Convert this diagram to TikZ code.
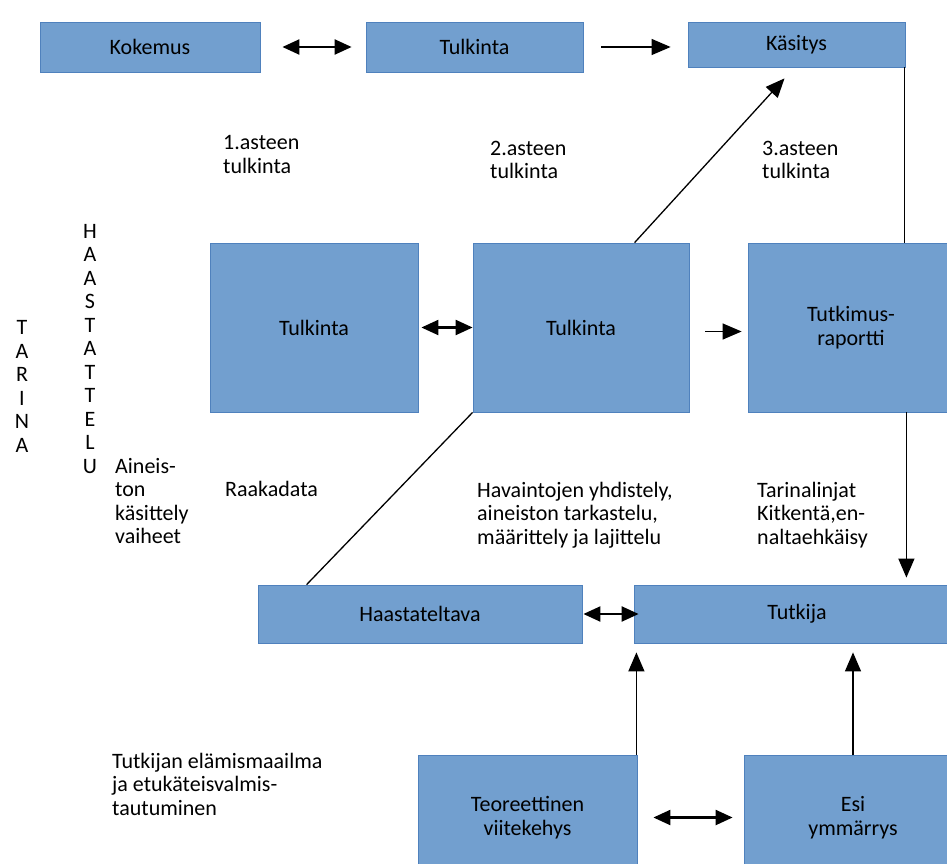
\documentclass[tikz,border=0pt]{standalone}
\usepackage{fontspec}
\setmainfont{Carlito}
\usetikzlibrary{arrows.meta,calc}

\definecolor{boxfill}{RGB}{114,159,207}
\definecolor{boxline}{RGB}{79,129,189}

\tikzset{
  box/.style={draw=boxline, fill=boxfill, line width=0.8pt, inner sep=0pt, align=center},
  txt/.style={anchor=base west, align=left, inner sep=0pt},
  letters/.style={anchor=base, align=center, inner sep=0pt},
  arr/.style={-{Triangle[length=19pt,width=16pt]}, line width=1.3pt},
  darr/.style={{Triangle[length=17pt,width=15pt]}-{Triangle[length=17pt,width=15pt]}, line width=2.2pt},
}

\begin{document}
\begin{tikzpicture}[x=1pt,y=-1pt,font=\fontsize{22}{23.5}\selectfont]
  \useasboundingbox (0,0) rectangle (947,864);

  \node[box, minimum width=220pt, minimum height=50pt] (kok) at (150,47) {Kokemus};
  \node[box, minimum width=217pt, minimum height=50pt] (tulk1) at (474.5,47) {Tulkinta};
  \node[box, minimum width=217pt, minimum height=45pt] (kas) at (796.5,44.5) {Käsitys};

  \node[box, minimum width=208pt, minimum height=169pt] (tulk2) at (314,327.5) {Tulkinta};
  \node[box, minimum width=216pt, minimum height=169pt] (tulk3) at (581,327.5) {Tulkinta};
  \node[box, minimum width=206pt, minimum height=169pt] (rap) at (851,327.5) {Tutkimus-\\raportti};

  \node[box, minimum width=324pt, minimum height=58pt] (haas) at (420,614) {Haastateltava};
  \node[box, minimum width=326pt, minimum height=58pt] (tutk) at (797,614) {Tutkija};

  \node[box, minimum width=219pt, minimum height=125pt] (teor) at (527.5,817.5) {Teoreettinen\\viitekehys};
  \node[box, minimum width=218pt, minimum height=125pt] (esi) at (853,817.5) {Esi\\ymmärrys};

  % base = baseline of the last line
  \node[txt] (aste1) at (223,173) {1.asteen\\tulkinta};
  \node[txt] (aste2) at (490,178.5) {2.asteen\\tulkinta};
  \node[txt] (aste3) at (762,178.5) {3.asteen\\tulkinta};

  \node[letters] (tarina) at (22,452) {T\\A\\R\\I\\N\\A};
  \node[letters] (haastattelu) at (90,473) {H\\A\\A\\S\\T\\A\\T\\T\\E\\L\\U};

  \node[txt] (vaiheet) at (115,543.5) {Aineis-\\ton\\käsittely\\vaiheet};
  \node[txt] (raaka) at (225,496) {Raakadata};
  \node[txt] (havainnot) at (477,544) {Havaintojen yhdistely,\\aineiston tarkastelu,\\määrittely ja lajittelu};
  \node[txt] (linjat) at (757,544) {Tarinalinjat\\Kitkentä,en-\\naltaehkäisy};
  \node[txt] (maailma) at (112,815) {Tutkijan elämismaailma\\ja etukäteisvalmis-\\tautuminen};

  \coordinate (kasTip) at ($(kas.south)+(-12,11)$);

  \draw[darr, shorten <=22pt, shorten >=14pt] (kok) -- (tulk1);
  \draw[arr, shorten <=18pt, shorten >=17pt] (tulk1.east) -- (tulk1.east -| kas.west);
  \draw[darr, shorten <=3pt] (tulk2) -- (tulk3);
  \draw[arr, shorten <=16pt, shorten >=6pt] ([yshift=-4pt]tulk3.east) -- ([yshift=-4pt]tulk3.east -| rap.west);
  \draw[darr, shorten <=1pt, shorten >=-5pt] (haas) -- (tutk);
  \draw[darr, shorten <=16pt, shorten >=11pt] (teor) -- (esi);

  \draw[arr] ([xshift=162pt]tulk3.north west) -- (kasTip);
  \draw[line width=1.3pt] ([xshift=-1pt]kas.south east) -- ([xshift=-1pt]kas.south east |- rap.north);
  \draw[arr, shorten >=7pt] ([xshift=1pt]kas.south east |- rap.south) -- ([xshift=1pt]kas.south east |- tutk.north);
  \draw[line width=1.3pt] ([xshift=49pt]haas.north west) -- (tulk3.south west);
  \draw[arr, shorten >=9pt] ([xshift=-1pt]teor.north east) -- ([xshift=-1pt]teor.north east |- tutk.south);
  \draw[arr, shorten >=9pt] (esi.north) -- (esi.north |- tutk.south);
\end{tikzpicture}
\end{document}
